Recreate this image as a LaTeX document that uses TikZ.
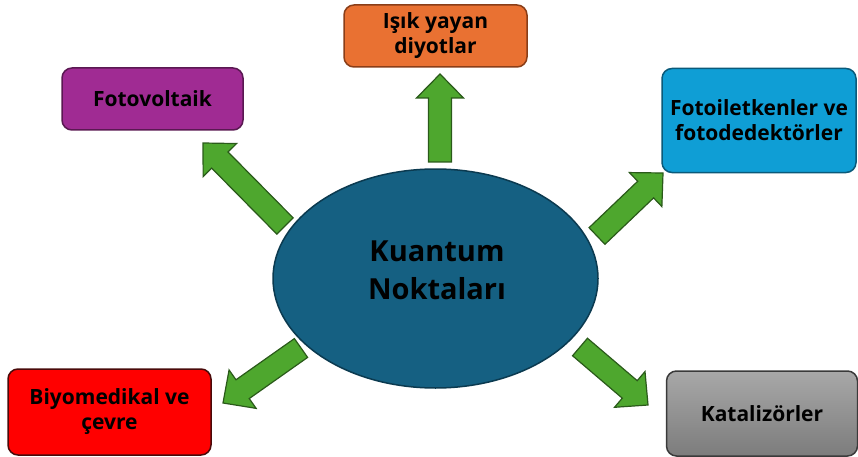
\documentclass[tikz,border=0pt]{standalone}
\usepackage{fontspec}
\setmainfont{Open Sans}
\usetikzlibrary{shapes.geometric,calc}
\definecolor{arrgreen}{HTML}{4EA72E}
\definecolor{arrgreenb}{HTML}{2A5A1A}
\definecolor{qdblue}{HTML}{156082}
\definecolor{qdblueb}{HTML}{0B3A50}
\definecolor{cOrange}{HTML}{E97132}
\definecolor{cOrangeB}{HTML}{8A3E18}
\definecolor{cPurple}{HTML}{A02B93}
\definecolor{cPurpleB}{HTML}{5A1852}
\definecolor{cBlue}{HTML}{0F9ED5}
\definecolor{cBlueB}{HTML}{0A5A7A}
\definecolor{cRed}{HTML}{FF0000}
\definecolor{cRedB}{HTML}{4A0A0A}
\definecolor{cGrayT}{HTML}{A8A8A8}
\definecolor{cGrayB}{HTML}{7C7C7C}
\definecolor{cGrayE}{HTML}{3A3A3A}
\def\shw{11.5pt}
\def\hhw{23.5pt}
\def\hdl{24pt}
\newcommand{\blockarrow}[2]{%
  \coordinate (#1-h) at ($(#2)!\hdl!(#1)$);
  \draw[blockarr] ($(#1)!\shw!90:(#2)$) -- ($(#1-h)!\shw!90:(#2)$) -- ($(#1-h)!\hhw!90:(#2)$) -- (#2)
    -- ($(#1-h)!\hhw!-90:(#2)$) -- ($(#1-h)!\shw!-90:(#2)$) -- ($(#1)!\shw!-90:(#2)$) -- cycle;
}
\tikzset{
  blockarr/.style={fill=arrgreen, draw=arrgreenb, line width=1.2pt, line join=miter},
  appbox/.style={rectangle, rounded corners=10pt, line width=1.5pt, align=center,
     inner sep=0pt, font=\fontsize{21}{25}\selectfont\bfseries, text=black},
}
\begin{document}
\begin{tikzpicture}[x=1pt,y=-1pt]
\useasboundingbox (0,0) rectangle (858,457);
% boxes
\node[appbox, fill=cOrange, draw=cOrangeB, minimum width=183pt, minimum height=62pt] (led) at (435.5,36) {Işık yayan\\diyotlar};
\node[appbox, fill=cPurple, draw=cPurpleB, minimum width=181pt, minimum height=62pt] (pv) at (152.5,99) {Fotovoltaik};
\node[appbox, fill=cBlue, draw=cBlueB, minimum width=194pt, minimum height=104pt] (pd) at (759,120.5) {Fotoiletkenler ve\\fotodedektörler};
\node[appbox, fill=cRed, draw=cRedB, minimum width=203pt, minimum height=86pt] (bio) at (109.5,412) {Biyomedikal ve\\çevre};
\node[appbox, top color=cGrayT, bottom color=cGrayB, draw=cGrayE, minimum width=191pt, minimum height=85pt] (kat) at (762,413.5) {Katalizörler};
% arrow ends
\coordinate (aUt) at (440,162);
\coordinate (aUp) at (440,74);
\coordinate (aULt) at (285,226);
\coordinate (aULp) at (203,143);
\coordinate (aURt) at (597,236);
\coordinate (aURp) at (663,173);
\coordinate (aLLt) at (301,348);
\coordinate (aLLp) at (223,403);
\coordinate (aLRt) at (580,347);
\coordinate (aLRp) at (648,405);
\blockarrow{aUt}{aUp}
\blockarrow{aULt}{aULp}
\blockarrow{aURt}{aURp}
\blockarrow{aLLt}{aLLp}
\blockarrow{aLRt}{aLRp}
% centre
\node[ellipse, fill=qdblue, draw=qdblueb, line width=1.5pt, minimum width=325pt, minimum height=219pt, inner sep=0pt] (qd) at (435.5,278.5) {};
\node[align=center, inner sep=0pt, font=\fontsize{29}{38}\selectfont\bfseries, text=black] (qdt) at (437,270) {Kuantum\\Noktaları};
\end{tikzpicture}
\end{document}
